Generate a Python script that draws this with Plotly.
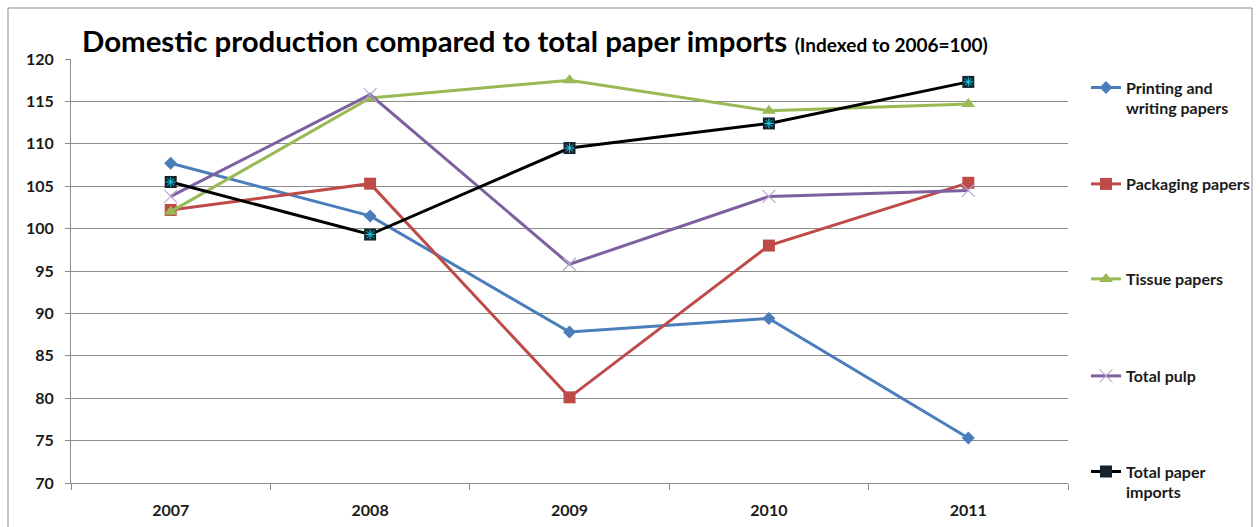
import plotly.graph_objects as go

# Index values (2006 = 100)
years = ["2007", "2008", "2009", "2010", "2011"]
printing_writing = [107.7, 101.5, 87.8, 89.4, 75.3]
packaging = [102.2, 105.3, 80.1, 98.0, 105.4]
tissue = [102.0, 115.4, 117.5, 113.9, 114.7]
total_pulp = [103.8, 115.8, 95.8, 103.8, 104.5]
paper_imports = [105.5, 99.3, 109.5, 112.4, 117.3]

W, H = 1260, 527
L, R, T, B = 71, 192, 59, 44
PW, PH = W - L - R, H - T - B


def py(px):
    """pixel row -> paper y"""
    return (H - B - px) / PH


def pxx(px):
    """pixel column -> paper x"""
    return (px - L) / PW


series = [
    ("Printing and<br>writing papers", printing_writing, "#4A7EBB",
     dict(symbol="diamond", size=10, color="#4A7EBB"), 98),
    ("Packaging papers", packaging, "#BE4B48",
     dict(symbol="square", size=12, color="#BE4B48"), 184),
    ("Tissue papers", tissue, "#98B954",
     dict(symbol="triangle-up", size=12, color="#98B954"), 279),
    ("Total pulp", total_pulp, "#7D60A0",
     dict(symbol="x-thin", size=13, line=dict(color="#B8A8CC", width=1.2)), 376),
    ("Total paper<br>imports", paper_imports, "#000000",
     dict(symbol="square", size=12, color="#14242C",
          line=dict(color="#14242C", width=0)), 482),
]

fig = go.Figure()
layout_legends = {}
for i, (name, vals, col, mk, ly) in enumerate(series):
    key = "legend" if i == 0 else f"legend{i + 1}"
    fig.add_trace(go.Scatter(
        x=years, y=vals, name=name, mode="lines+markers",
        line=dict(color=col, width=3), marker=mk, legend=key,
    ))
    layout_legends[key] = dict(
        x=pxx(1086), y=py(ly), xanchor="left", yanchor="middle",
        valign="top", bgcolor="rgba(0,0,0,0)", borderwidth=0,
        font=dict(family="Lato", size=16, color="#1a1a1a", weight="bold"),
        itemwidth=30,
    )

# cyan asterisk drawn inside the dark import markers
fig.add_trace(go.Scatter(
    x=years, y=paper_imports, mode="markers", showlegend=False,
    marker=dict(symbol="asterisk-open", size=8,
                line=dict(color="#4A9DB4", width=1)),
    hoverinfo="skip",
))

fig.update_layout(
    width=W, height=H,
    margin=dict(l=L, r=R, t=T, b=B, autoexpand=False),
    paper_bgcolor="white", plot_bgcolor="white",
    showlegend=True,
    **layout_legends,
    xaxis=dict(
        type="category", range=[-0.5, 4.5], automargin=False,
        showline=True, linecolor="#8C8C8C", linewidth=1,
        showgrid=False, ticks="outside", tickson="boundaries",
        ticklen=6, tickcolor="#8C8C8C",
        tickfont=dict(family="Lato", size=16, color="#1a1a1a", weight="bold"),
        ticklabelstandoff=13,
    ),
    yaxis=dict(
        range=[70, 120], dtick=5, tick0=70, automargin=False,
        showline=True, linecolor="#8C8C8C", linewidth=1,
        showgrid=True, gridcolor="#8C8C8C", gridwidth=1,
        ticks="outside", ticklen=5, tickcolor="#8C8C8C",
        tickfont=dict(family="Lato", size=16, color="#1a1a1a", weight="bold"),
        ticklabelstandoff=8, zeroline=False,
    ),
    annotations=[dict(
        xref="paper", yref="paper", x=pxx(80), y=py(40),
        xanchor="left", yanchor="middle", showarrow=False,
        text="<b>Domestic production compared to total paper imports</b> "
             "<b><span style='font-size:19px'>(Indexed to 2006=100)</span></b>",
        font=dict(family="Lato", size=29.4, color="#000000"),
    )],
    shapes=[dict(
        type="rect", xref="paper", yref="paper",
        x0=pxx(8), x1=pxx(1252), y0=py(540), y1=py(8),
        line=dict(color="#8C8C8C", width=1), fillcolor="rgba(0,0,0,0)",
        layer="below",
    )],
)

fig.write_html("out.html")
